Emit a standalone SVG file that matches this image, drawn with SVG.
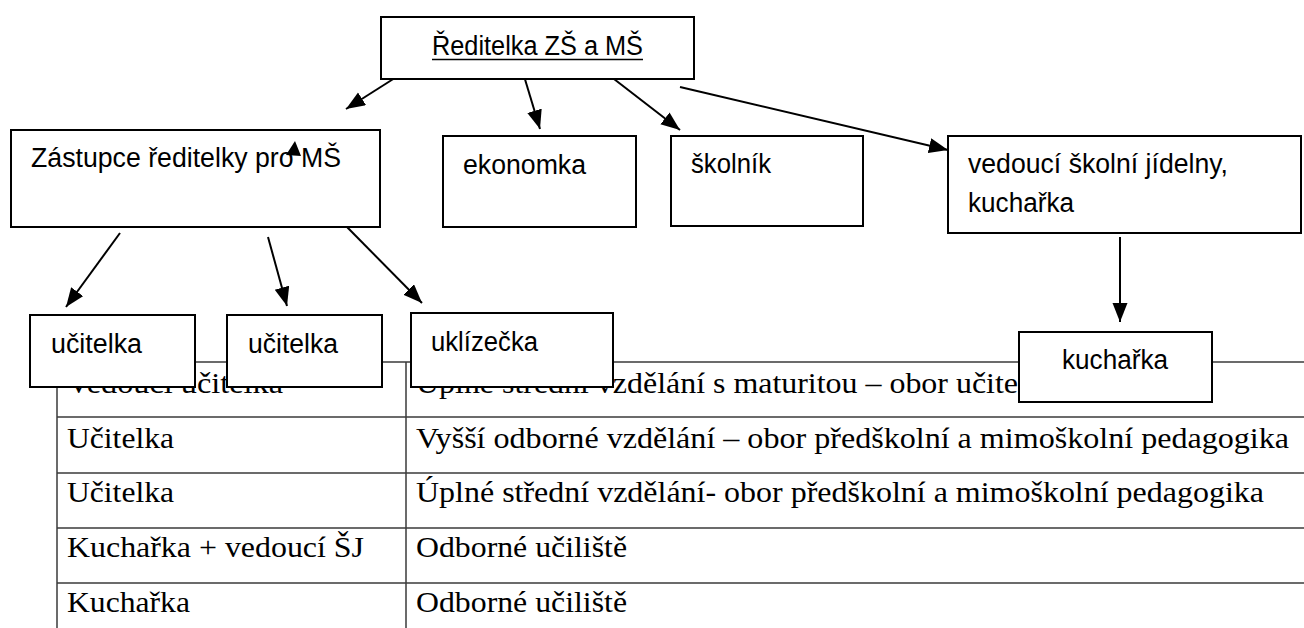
<svg xmlns="http://www.w3.org/2000/svg" width="1304" height="628" viewBox="0 0 1304 628">
<defs>
<marker id="ah" markerUnits="userSpaceOnUse" markerWidth="20" markerHeight="16" refX="19" refY="7.5" orient="auto">
<path d="M0,0 L19,7.5 L0,15 z" fill="#000"/>
</marker>
<style>
.box{fill:#fff;stroke:#000;stroke-width:2}
.lbl{font-family:"Liberation Sans",Arial,sans-serif;font-size:27px;fill:#000}
.tt{font-family:"Liberation Serif","Times New Roman",serif;font-size:30px;fill:#000}
.tl{stroke:#3a3a3a;stroke-width:1.5;fill:none}
.con{stroke:#000;stroke-width:2;fill:none;marker-end:url(#ah)}
</style>
</defs>
<rect width="1304" height="628" fill="#fff"/>
<g id="table">
<line class="tl" x1="57" y1="362" x2="1304" y2="362"/>
<line class="tl" x1="57" y1="417" x2="1304" y2="417"/>
<line class="tl" x1="57" y1="473" x2="1304" y2="473"/>
<line class="tl" x1="57" y1="528" x2="1304" y2="528"/>
<line class="tl" x1="57" y1="583" x2="1304" y2="583"/>
<line class="tl" x1="57" y1="362" x2="57" y2="628"/>
<line class="tl" x1="406" y1="362" x2="406" y2="628"/>
<text class="tt" x="67" y="393" textLength="216" lengthAdjust="spacingAndGlyphs">Vedoucí učitelka</text>
<text class="tt" x="416" y="393" textLength="602" lengthAdjust="spacingAndGlyphs">Úplné střední vzdělání s maturitou – obor učite</text>
<text class="tt" x="67" y="448" textLength="107" lengthAdjust="spacingAndGlyphs">Učitelka</text>
<text class="tt" x="416" y="448" textLength="873" lengthAdjust="spacingAndGlyphs">Vyšší odborné vzdělání – obor předškolní a mimoškolní pedagogika</text>
<text class="tt" x="67" y="502" textLength="107" lengthAdjust="spacingAndGlyphs">Učitelka</text>
<text class="tt" x="416" y="502" textLength="848" lengthAdjust="spacingAndGlyphs">Úplné střední vzdělání- obor předškolní a mimoškolní pedagogika</text>
<text class="tt" x="67" y="557" textLength="297" lengthAdjust="spacingAndGlyphs">Kuchařka + vedoucí ŠJ</text>
<text class="tt" x="416" y="557" textLength="211" lengthAdjust="spacingAndGlyphs">Odborné učiliště</text>
<text class="tt" x="67" y="612" textLength="123" lengthAdjust="spacingAndGlyphs">Kuchařka</text>
<text class="tt" x="416" y="612" textLength="211" lengthAdjust="spacingAndGlyphs">Odborné učiliště</text>
</g>
<g id="connectors">
<line class="con" x1="398" y1="76" x2="346" y2="109"/>
<line class="con" x1="524" y1="76" x2="540" y2="129"/>
<line class="con" x1="614" y1="79" x2="680" y2="130"/>
<line class="con" x1="680" y1="87" x2="948" y2="150"/>
<line class="con" x1="1120" y1="237" x2="1120" y2="322"/>
<line class="con" x1="120" y1="233" x2="66" y2="307"/>
<line class="con" x1="268" y1="237" x2="287" y2="306"/>
<line class="con" x1="347" y1="227" x2="422" y2="303"/>
</g>
<g id="reditelka">
<rect class="box" x="381" y="17" width="313" height="62"/>
<text class="lbl" x="432" y="55" textLength="211" lengthAdjust="spacingAndGlyphs">Ředitelka ZŠ a MŠ</text>
<line x1="432" y1="59.5" x2="643" y2="59.5" stroke="#000" stroke-width="1.5"/>
</g>
<g id="zastupce">
<rect class="box" x="11" y="130" width="369" height="97"/>
<text class="lbl" x="31" y="167" textLength="310" lengthAdjust="spacingAndGlyphs">Zástupce ředitelky pro MŠ</text>
<polygon points="295,141 286,155 301,156" fill="#000"/>
</g>
<g id="ekonomka">
<rect class="box" x="443" y="136" width="193" height="91"/>
<text class="lbl" x="463" y="174" textLength="123" lengthAdjust="spacingAndGlyphs">ekonomka</text>
</g>
<g id="skolnik">
<rect class="box" x="671" y="136" width="192" height="90"/>
<text class="lbl" x="691" y="173" textLength="80" lengthAdjust="spacingAndGlyphs">školník</text>
</g>
<g id="vedouci">
<rect class="box" x="948" y="136" width="353" height="97"/>
<text class="lbl" x="968" y="173" textLength="260" lengthAdjust="spacingAndGlyphs">vedoucí školní jídelny,</text>
<text class="lbl" x="968" y="212" textLength="106" lengthAdjust="spacingAndGlyphs">kuchařka</text>
</g>
<g id="kucharka">
<rect class="box" x="1019" y="332" width="193" height="70"/>
<text class="lbl" x="1062" y="369" textLength="106" lengthAdjust="spacingAndGlyphs">kuchařka</text>
</g>
<g id="ucitelka1">
<rect class="box" x="30" y="315" width="165" height="72"/>
<text class="lbl" x="51" y="353" textLength="91" lengthAdjust="spacingAndGlyphs">učitelka</text>
</g>
<g id="ucitelka2">
<rect class="box" x="227" y="315" width="155" height="72"/>
<text class="lbl" x="248" y="353" textLength="90" lengthAdjust="spacingAndGlyphs">učitelka</text>
</g>
<g id="uklizecka">
<rect class="box" x="411" y="313" width="202" height="74"/>
<text class="lbl" x="431" y="351" textLength="107" lengthAdjust="spacingAndGlyphs">uklízečka</text>
</g>
</svg>
